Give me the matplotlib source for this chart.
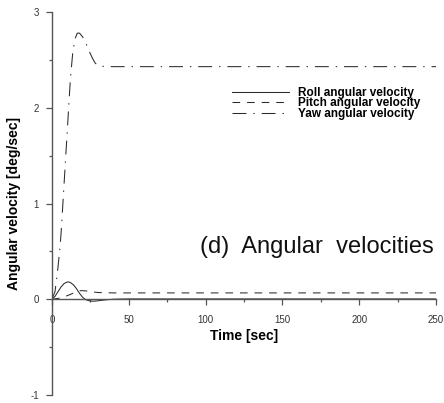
import matplotlib
matplotlib.use('Agg')
import matplotlib.pyplot as plt
from matplotlib.ticker import MultipleLocator

plt.rcParams['font.family'] = ['Liberation Sans', 'DejaVu Sans']
plt.rcParams['lines.scale_dashes'] = False
plt.rcParams['axes.unicode_minus'] = False

# angular velocity responses [deg/sec]
t_roll = [0, 2, 4, 6, 8, 10, 11, 12, 14, 16, 18, 20, 22, 25, 28, 32, 36, 40, 50, 250]
roll = [0, 0.03, 0.08, 0.13, 0.165, 0.18, 0.18, 0.175, 0.15, 0.11, 0.06, 0.02,
        -0.005, -0.02, -0.02, -0.012, -0.005, 0.0, 0.003, 0.003]

t_pitch = [0, 4, 8, 12, 16, 19, 22, 26, 30, 40, 250]
pitch = [0, 0.008, 0.025, 0.05, 0.08, 0.09, 0.087, 0.078, 0.07, 0.066, 0.066]

t_yaw = [0, 2, 3.5, 5, 6, 7.5, 9, 10.5, 12, 13.5, 15, 16.5, 18, 20, 22, 24, 26,
         28, 30, 35, 250]
yaw = [0, 0.08, 0.27, 0.5, 0.7, 1.1, 1.5, 1.9, 2.3, 2.57, 2.72, 2.78, 2.78, 2.74,
       2.68, 2.6, 2.53, 2.47, 2.44, 2.43, 2.43]

labels = ['Roll angular velocity', 'Pitch angular velocity', 'Yaw angular velocity']

fig = plt.figure(figsize=(4.44, 4.03), dpi=100)
ax = fig.add_axes([0.117, 0.02, 0.865, 0.95])

lc = '#2a2a2a'
ax.plot(t_roll, roll, color=lc, lw=0.75, label=labels[0])
ax.plot(t_pitch, pitch, color=lc, lw=0.75, dashes=(5.5, 5), label=labels[1])
ax.plot(t_yaw, yaw, color=lc, lw=0.75, dashes=(10, 5, 1, 5), label=labels[2])

ax.set_xlim(0, 250)
ax.set_ylim(-1, 3)
ax.spines['top'].set_visible(False)
ax.spines['right'].set_visible(False)
ax.spines['bottom'].set_position(('data', 0))
for s in ('left', 'bottom'):
    ax.spines[s].set_color('#555555')
    ax.spines[s].set_linewidth(1.0)

ax.xaxis.set_major_locator(MultipleLocator(50))
ax.xaxis.set_minor_locator(MultipleLocator(25))
ax.yaxis.set_major_locator(MultipleLocator(1))
ax.yaxis.set_minor_locator(MultipleLocator(0.5))
ax.tick_params(which='major', length=4.5, width=0.9, color='#555555',
               labelsize=7, labelcolor='#333333')
ax.tick_params(which='minor', length=2.5, width=0.9, color='#555555')
ax.tick_params(axis='x', which='major', pad=6.5)
ax.tick_params(axis='y', which='major', pad=5)

ax.set_xlabel('Time [sec]', fontsize=10, fontweight='bold', labelpad=3)
ax.set_ylabel('Angular velocity [deg/sec]', fontsize=10, fontweight='bold')
ax.yaxis.set_label_coords(-0.08, 0.5)

leg = ax.legend(loc='upper left', bbox_to_anchor=(226 / 444, 1 - 81 / 403),
                bbox_transform=fig.transFigure, frameon=False, borderpad=0,
                handlelength=4.8, handletextpad=0.8, labelspacing=-0.12,
                prop={'weight': 'bold', 'size': 8.5})

ax.text(0.385, 0.371, '(d)  Angular  velocities', transform=ax.transAxes,
        fontsize=17, va='baseline', ha='left', color='#111111')

fig.savefig('out.png', dpi=100)
